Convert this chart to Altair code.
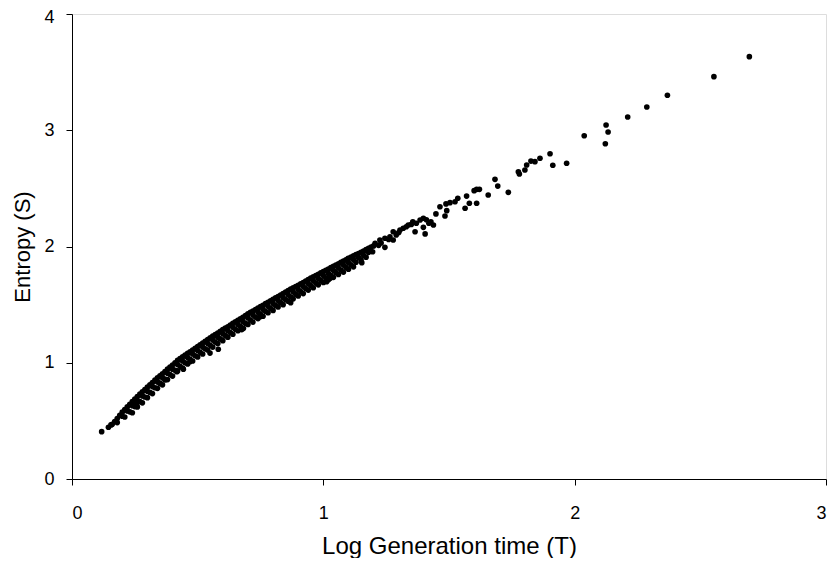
import altair as alt
import pandas as pd

# Values (T = Log Generation time, S = Entropy)
start_t = [0.118, 0.145, 0.155]
start_s = [0.407, 0.445, 0.465]

# upper edge of the dense band
top_t = [0.16, 0.17, 0.18, 0.19, 0.20, 0.21, 0.22, 0.23, 0.24, 0.25, 0.26, 0.27, 0.28, 0.29,
         0.30, 0.31, 0.32, 0.33, 0.34, 0.35, 0.36, 0.37, 0.38, 0.39, 0.40, 0.41, 0.42, 0.43,
         0.44, 0.45, 0.46, 0.47, 0.48, 0.49, 0.50, 0.51, 0.52, 0.53, 0.54, 0.55, 0.56, 0.57,
         0.58, 0.59, 0.60, 0.61, 0.62, 0.63, 0.64, 0.65, 0.66, 0.67, 0.68, 0.69, 0.70, 0.71,
         0.72, 0.73, 0.74, 0.75, 0.76, 0.77, 0.78, 0.79, 0.80, 0.81, 0.82, 0.83, 0.84, 0.85,
         0.86, 0.87, 0.88, 0.89, 0.90, 0.91, 0.92, 0.93, 0.94, 0.95, 0.96, 0.97, 0.98, 0.99,
         1.00, 1.01, 1.02, 1.03, 1.04, 1.05, 1.06, 1.07, 1.08, 1.09, 1.10, 1.11, 1.12, 1.13,
         1.14, 1.15, 1.16, 1.17, 1.18, 1.19, 1.20]
top_s = [0.47, 0.495, 0.52, 0.548, 0.575, 0.598, 0.62, 0.643, 0.665, 0.688, 0.71, 0.73, 0.75, 0.77,
         0.79, 0.81, 0.83, 0.85, 0.87, 0.888, 0.905, 0.925, 0.945, 0.963, 0.98, 1.00, 1.02, 1.035,
         1.05, 1.065, 1.08, 1.095, 1.11, 1.125, 1.14, 1.155, 1.17, 1.185, 1.20, 1.215, 1.23, 1.243,
         1.255, 1.27, 1.285, 1.298, 1.31, 1.325, 1.34, 1.353, 1.365, 1.378, 1.39, 1.405, 1.42, 1.433,
         1.445, 1.458, 1.47, 1.483, 1.495, 1.508, 1.52, 1.533, 1.545, 1.558, 1.57, 1.583, 1.595, 1.608,
         1.62, 1.633, 1.645, 1.655, 1.665, 1.678, 1.69, 1.703, 1.715, 1.728, 1.74, 1.75, 1.76, 1.773,
         1.785, 1.795, 1.805, 1.818, 1.83, 1.84, 1.85, 1.863, 1.875, 1.885, 1.895, 1.908, 1.92, 1.93,
         1.94, 1.95, 1.96, 1.973, 1.985, 1.995, 2.005]

# second layer of the band
mid_t = [0.18, 0.20, 0.22, 0.24, 0.26, 0.28, 0.30, 0.32, 0.34, 0.36, 0.38, 0.40, 0.42,
         0.44, 0.46, 0.48, 0.50, 0.52, 0.54, 0.56, 0.58, 0.60, 0.62, 0.64, 0.66, 0.68,
         0.70, 0.72, 0.74, 0.76, 0.78, 0.80, 0.82, 0.84, 0.86, 0.88, 0.90, 0.92, 0.94,
         0.96, 0.98, 1.00, 1.02, 1.04, 1.06, 1.08, 1.10, 1.12, 1.14, 1.16, 1.18]
mid_s = [0.485, 0.54, 0.585, 0.63, 0.675, 0.715, 0.755, 0.795, 0.835, 0.87, 0.91, 0.945, 0.985,
         1.015, 1.045, 1.075, 1.105, 1.135, 1.165, 1.195, 1.22, 1.25, 1.275, 1.305, 1.33, 1.355,
         1.385, 1.41, 1.435, 1.46, 1.485, 1.51, 1.535, 1.56, 1.585, 1.61, 1.63, 1.655, 1.68,
         1.705, 1.725, 1.75, 1.77, 1.795, 1.815, 1.84, 1.86, 1.885, 1.905, 1.925, 1.95]

# third layer of the band
low_t = [0.21, 0.23, 0.25, 0.27, 0.29, 0.31, 0.33, 0.35, 0.37, 0.39, 0.41, 0.43, 0.45,
         0.47, 0.49, 0.51, 0.53, 0.55, 0.57, 0.59, 0.61, 0.63, 0.65, 0.67, 0.69, 0.71,
         0.73, 0.75, 0.77, 0.79, 0.81, 0.83, 0.85, 0.87, 0.89, 0.91, 0.93, 0.95, 0.97,
         0.99, 1.01, 1.03, 1.05, 1.07, 1.09, 1.11, 1.13, 1.15, 1.17]
low_s = [0.533, 0.578, 0.623, 0.665, 0.705, 0.745, 0.785, 0.823, 0.86, 0.898, 0.935, 0.97, 1.00,
         1.03, 1.06, 1.09, 1.12, 1.15, 1.178, 1.205, 1.233, 1.26, 1.288, 1.313, 1.34, 1.368,
         1.393, 1.418, 1.443, 1.468, 1.493, 1.518, 1.543, 1.568, 1.59, 1.613, 1.638, 1.663, 1.685,
         1.708, 1.73, 1.753, 1.775, 1.798, 1.82, 1.843, 1.865, 1.885, 1.908]

# lower fringe of the band
fringe_t = [0.24, 0.28, 0.32, 0.36, 0.40, 0.44, 0.48, 0.52, 0.56, 0.60, 0.64, 0.68,
            0.72, 0.76, 0.80, 0.84, 0.88, 0.92, 0.96, 1.00, 1.04, 1.08, 1.12]
fringe_s = [0.57, 0.655, 0.735, 0.81, 0.885, 0.955, 1.015, 1.075, 1.135, 1.19, 1.245, 1.295,
            1.35, 1.40, 1.45, 1.50, 1.55, 1.595, 1.645, 1.69, 1.735, 1.78, 1.825]
fringe2_t = [0.26, 0.30, 0.34, 0.38, 0.42, 0.46, 0.50, 0.54, 0.58, 0.62, 0.66, 0.70,
             0.74, 0.78, 0.82, 0.86, 0.90, 0.94, 0.98, 1.02, 1.06, 1.10]
fringe2_s = [0.62, 0.70, 0.78, 0.855, 0.93, 0.99, 1.05, 1.11, 1.165, 1.22, 1.275, 1.33,
             1.38, 1.43, 1.48, 1.53, 1.575, 1.625, 1.67, 1.715, 1.76, 1.805]

# scattered points just below the band
below_t = [0.257, 0.350, 0.370, 0.417, 0.443, 0.469, 0.549, 0.582, 0.675, 0.682, 0.748,
           0.870, 1.013, 1.027, 1.099, 1.153]
below_s = [0.651, 0.823, 0.852, 0.923, 0.945, 1.009, 1.083, 1.116, 1.285, 1.296, 1.396,
           1.517, 1.697, 1.726, 1.899, 1.861]

# sparse upper part of the cloud
sparse_t = [1.196, 1.206, 1.22, 1.225, 1.23, 1.245, 1.245, 1.26, 1.265, 1.278, 1.278, 1.29,
            1.30, 1.305, 1.318, 1.33, 1.338, 1.35, 1.356, 1.365, 1.37, 1.385, 1.398, 1.398,
            1.405, 1.41, 1.42, 1.428, 1.438, 1.448, 1.464, 1.484, 1.488, 1.491, 1.504, 1.524,
            1.535, 1.564, 1.570, 1.581, 1.600, 1.610, 1.610, 1.621, 1.656, 1.683, 1.694,
            1.736, 1.776, 1.780, 1.802, 1.809, 1.826, 1.842, 1.862, 1.902, 1.913, 1.968,
            2.038, 2.122, 2.125, 2.133, 2.211, 2.287, 2.369, 2.554, 2.695]
sparse_s = [1.955, 2.028, 2.01, 2.056, 2.03, 2.071, 1.993, 2.06, 2.084, 2.127, 2.056, 2.10,
            2.12, 2.142, 2.157, 2.17, 2.185, 2.19, 2.213, 2.127, 2.20, 2.228, 2.243, 2.165,
            2.108, 2.23, 2.20, 2.213, 2.185, 2.280, 2.342, 2.262, 2.366, 2.308, 2.377, 2.385,
            2.415, 2.329, 2.434, 2.372, 2.480, 2.492, 2.372, 2.492, 2.443, 2.578, 2.520,
            2.466, 2.643, 2.624, 2.658, 2.701, 2.735, 2.730, 2.759, 2.798, 2.699, 2.716,
            2.953, 2.884, 3.045, 2.985, 3.114, 3.200, 3.301, 3.461, 3.633]

x_ticks = [0, 1, 2, 3]
y_ticks = [0, 1, 2, 3, 4]

df = pd.DataFrame({
    "T": start_t + top_t + mid_t + low_t + fringe_t + fringe2_t + below_t + sparse_t,
    "S": start_s + top_s + mid_s + low_s + fringe_s + fringe2_s + below_s + sparse_s,
})

FONT = "Liberation Sans"

chart = alt.Chart(df).mark_circle(size=32, color="black", opacity=1).encode(
    x=alt.X("T:Q",
            scale=alt.Scale(domain=[0, 3], nice=False, zero=True),
            axis=alt.Axis(values=x_ticks, title="Log Generation time (T)", grid=False,
                          tickSize=6, labelPadding=19, labelFontSize=18,
                          titleFontSize=24, titleFontWeight="normal",
                          titleBaseline="alphabetic", titleY=74,
                          domainColor="black", tickColor="black",
                          labelColor="black", titleColor="black",
                          labelFont=FONT, titleFont=FONT)),
    y=alt.Y("S:Q",
            scale=alt.Scale(domain=[0, 4], nice=False, zero=True),
            axis=alt.Axis(values=y_ticks, title="Entropy (S)", grid=False,
                          tickSize=6, labelPadding=12, labelFontSize=18,
                          labelOffset={"condition": {"test": "datum.value == 4", "value": 3},
                                       "value": 0},
                          titleFontSize=22, titleFontWeight="normal",
                          titleBaseline="alphabetic", titleX=-43,
                          domainColor="black", tickColor="black",
                          labelColor="black", titleColor="black",
                          labelFont=FONT, titleFont=FONT)),
).properties(
    width=754,
    height=465,
    autosize=alt.AutoSizeParams(type="none"),
    padding={"left": 64, "top": 6, "right": 1, "bottom": 79},
).configure_view(
    stroke="#808080",
    strokeWidth=1,
).configure(background="white")

chart.save("out.html", embed_options={"renderer": "svg", "actions": False})
